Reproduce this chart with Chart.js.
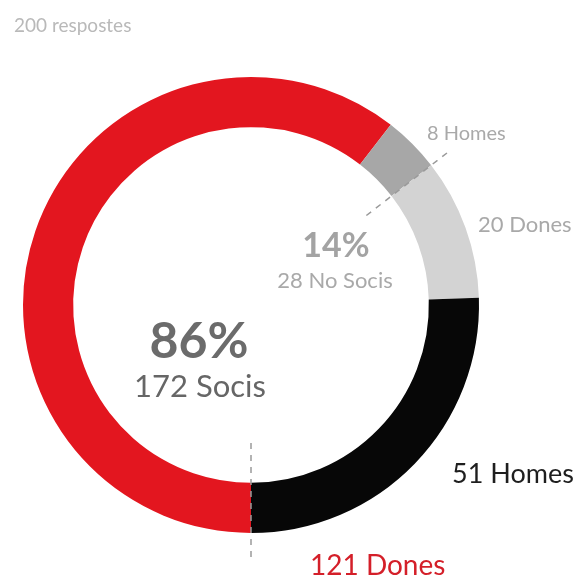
<!DOCTYPE html>
<html>
<head>
<meta charset="utf-8">
<script src="https://cdn.jsdelivr.net/npm/chart.js@4/dist/chart.umd.min.js"></script>
<style>
  html, body { margin: 0; padding: 0; background: #ffffff; }
  #wrap { position: relative; width: 577px; height: 577px; }
  canvas { display: block; }
</style>
</head>
<body>
<div id="wrap"><canvas id="c" width="577" height="577"></canvas></div>
<script>
// Survey answers split by membership and gender
const totalLabel = '200 respostes';
const segmentNames = ['Dones', 'Homes', 'Dones', 'Homes'];
const segmentValues = [121, 8, 20, 51];
const segmentIsMember = [true, false, false, true];
const segmentColors = ['#e3161f', '#a7a7a7', '#d3d3d3', '#070707'];
const memberText = 'Socis';
const nonMemberText = 'No Socis';

const total = segmentValues.reduce((a, b) => a + b, 0);
const members = segmentValues.filter((v, i) => segmentIsMember[i]).reduce((a, b) => a + b, 0);
const nonMembers = total - members;

const FONT = 'Lato, "Open Sans", sans-serif';

// Text and guide lines drawn on top of the ring
const annotations = {
  id: 'annotations',
  afterDatasetsDraw(chart) {
    const ctx = chart.ctx;
    const arcs = chart.getDatasetMeta(0).data;
    const cx = arcs[0].x, cy = arcs[0].y;

    // dashed guides on the gender boundaries of each group
    const guide = (ang, r0, r1) => {
      ctx.save();
      ctx.strokeStyle = '#9a9a9a';
      ctx.lineWidth = 1.5;
      ctx.setLineDash([6, 6]);
      ctx.beginPath();
      ctx.moveTo(cx + r0 * Math.cos(ang), cy + r0 * Math.sin(ang));
      ctx.lineTo(cx + r1 * Math.cos(ang), cy + r1 * Math.sin(ang));
      ctx.stroke();
      ctx.restore();
    };
    guide(arcs[1].endAngle, 146, 252);
    guide(arcs[0].startAngle, 138, 254);

    const txt = (s, x, y, size, color, weight, align) => {
      ctx.save();
      ctx.font = (weight || 'normal') + ' ' + size + 'px ' + FONT;
      ctx.fillStyle = color;
      ctx.textAlign = align || 'left';
      ctx.textBaseline = 'alphabetic';
      ctx.fillText(s, x, y);
      ctx.restore();
    };

    txt(totalLabel, 14, 32, 19, '#b9b9b9');

    const pctMembers = Math.round(members / total * 100);
    const pctNon = Math.round(nonMembers / total * 100);
    txt(pctMembers + '%', 199, 358, 50, '#6b6b6b', 'bold', 'center');
    txt(members + ' ' + memberText, 200, 397, 31, '#666666', 'normal', 'center');
    txt(pctNon + '%', 336, 257, 34, '#a3a3a3', 'bold', 'center');
    txt(nonMembers + ' ' + nonMemberText, 335, 288, 22, '#a9a9a9', 'normal', 'center');

    txt(segmentValues[1] + ' ' + segmentNames[1], 427, 140, 20, '#a9a9a9');
    txt(segmentValues[2] + ' ' + segmentNames[2], 478, 232, 22, '#a9a9a9');
    txt(segmentValues[3] + ' ' + segmentNames[3], 452, 483, 27, '#1e1e1e');
    txt(segmentValues[0] + ' ' + segmentNames[0], 310, 575, 28, '#d41f29');
  }
};

new Chart(document.getElementById('c'), {
  type: 'doughnut',
  data: {
    labels: segmentNames.map((n, i) => segmentValues[i] + ' ' + n),
    datasets: [{
      data: segmentValues,
      backgroundColor: segmentColors,
      borderWidth: 0,
      hoverOffset: 0
    }]
  },
  options: {
    responsive: false,
    animation: false,
    cutout: '78%',
    rotation: 180,
    layout: { padding: { left: 23, top: 77, right: 98, bottom: 44 } },
    plugins: {
      legend: { display: false },
      tooltip: { enabled: false },
      title: { display: false }
    },
    events: []
  },
  plugins: [annotations]
});
</script>
</body>
</html>
